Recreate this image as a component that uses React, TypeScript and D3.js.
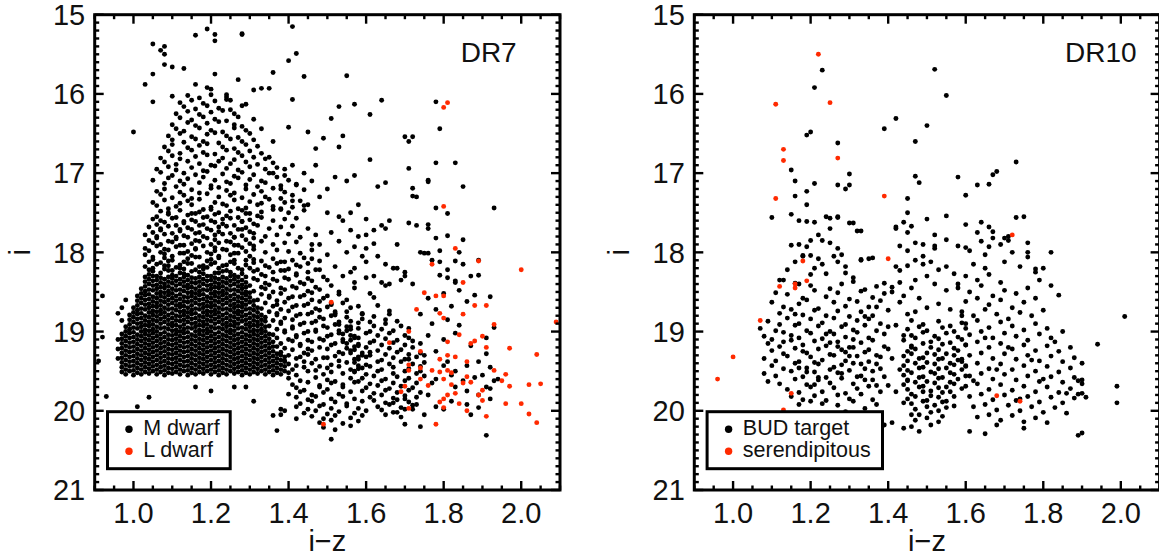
import React from "react";
import * as d3 from "d3";

// ---------- axes ----------
const X_DOMAIN = [0.9, 2.1];
const Y_DOMAIN = [15, 21];
const X_TICKS = [1.0, 1.2, 1.4, 1.6, 1.8, 2.0];
const Y_TICKS = [15, 16, 17, 18, 19, 20, 21];
const X_TICK_LABELS = ["1.0", "1.2", "1.4", "1.6", "1.8", "2.0"];
const Y_TICK_LABELS = ["15", "16", "17", "18", "19", "20", "21"];

// ---------- data: flat pairs [i−z × 100, i × 100, ...] ----------
// DR7 M dwarfs: the saturated core of the distribution
const DR7_M_CORE = [
98,1954,100,1955,102,1954,104,1953,106,1954,108,1955,110,1953,112,1954,114,1955,116,1954,118,1953,120,1954,122,1955,124,1954,126,1953,128,1955,130,1954,132,1953,134,1954,136,1955,138,1954,
97,1951,99,1950,101,1952,103,1951,105,1950,107,1951,109,1952,111,1951,113,1950,115,1952,117,1951,119,1950,121,1951,123,1952,125,1950,127,1951,129,1952,131,1951,133,1950,135,1951,137,1952,139,1950,
98,1948,100,1949,102,1948,104,1947,106,1948,108,1949,110,1947,112,1948,114,1949,116,1948,118,1947,120,1948,122,1949,124,1948,126,1947,128,1949,130,1948,132,1947,134,1948,136,1949,138,1948,
97,1945,99,1944,101,1946,103,1945,105,1944,107,1945,109,1946,111,1945,113,1944,115,1946,117,1945,119,1944,121,1945,123,1946,125,1944,127,1945,129,1946,131,1945,133,1944,135,1945,137,1946,139,1944,
98,1942,100,1943,102,1942,104,1941,106,1942,108,1943,110,1941,112,1942,114,1943,116,1942,118,1941,120,1942,122,1943,124,1942,126,1941,128,1943,130,1942,132,1941,134,1942,136,1943,138,1942,
97,1939,99,1938,101,1940,103,1939,105,1938,107,1939,109,1940,111,1939,113,1938,115,1940,117,1939,119,1938,121,1939,123,1940,125,1938,127,1939,129,1940,131,1939,133,1938,135,1939,137,1940,139,1938,
98,1936,100,1937,102,1936,104,1935,106,1936,108,1937,110,1935,112,1936,114,1937,116,1936,118,1935,120,1936,122,1937,124,1936,126,1935,128,1937,130,1936,132,1935,134,1936,136,1937,138,1936,
97,1933,99,1932,101,1934,103,1933,105,1932,107,1933,109,1934,111,1933,113,1932,115,1934,117,1933,119,1932,121,1933,123,1934,125,1932,127,1933,129,1934,131,1933,133,1932,135,1933,137,1934,139,1932,
98,1930,100,1931,102,1930,104,1929,106,1930,108,1931,110,1929,112,1930,114,1931,116,1930,118,1929,120,1930,122,1931,124,1930,126,1929,128,1931,130,1930,132,1929,134,1930,136,1931,138,1930,
97,1927,99,1926,101,1928,103,1927,105,1926,107,1927,109,1928,111,1927,113,1926,115,1928,117,1927,119,1926,121,1927,123,1928,125,1926,127,1927,129,1928,131,1927,133,1926,135,1927,137,1928,
98,1924,100,1925,102,1924,104,1923,106,1924,108,1925,110,1923,112,1924,114,1925,116,1924,118,1923,120,1924,122,1925,124,1924,126,1923,128,1925,130,1924,132,1923,134,1924,136,1925,
97,1921,99,1920,101,1922,103,1921,105,1920,107,1921,109,1922,111,1921,113,1920,115,1922,117,1921,119,1920,121,1921,123,1922,125,1920,127,1921,129,1922,131,1921,133,1920,135,1921,
98,1918,100,1919,102,1918,104,1917,106,1918,108,1919,110,1917,112,1918,114,1919,116,1918,118,1917,120,1918,122,1919,124,1918,126,1917,128,1919,130,1918,132,1917,134,1918,136,1919,
97,1915,99,1914,101,1916,103,1915,105,1914,107,1915,109,1916,111,1915,113,1914,115,1916,117,1915,119,1914,121,1915,123,1916,125,1914,127,1915,129,1916,131,1915,133,1914,135,1915,
98,1912,100,1913,102,1912,104,1911,106,1912,108,1913,110,1911,112,1912,114,1913,116,1912,118,1911,120,1912,122,1913,124,1912,126,1911,128,1913,130,1912,132,1911,134,1912,136,1913,
97,1909,99,1908,101,1910,103,1909,105,1908,107,1909,109,1910,111,1909,113,1908,115,1910,117,1909,119,1908,121,1909,123,1910,125,1908,127,1909,129,1910,131,1909,133,1908,135,1909,
98,1906,100,1907,102,1906,104,1905,106,1906,108,1907,110,1905,112,1906,114,1907,116,1906,118,1905,120,1906,122,1907,124,1906,126,1905,128,1907,130,1906,132,1905,134,1906,
97,1903,99,1902,101,1904,103,1903,105,1902,107,1903,109,1904,111,1903,113,1902,115,1904,117,1903,119,1902,121,1903,123,1904,125,1902,127,1903,129,1904,131,1903,133,1902,135,1903,
98,1900,100,1901,102,1900,104,1899,106,1900,108,1901,110,1899,112,1900,114,1901,116,1900,118,1899,120,1900,122,1901,124,1900,126,1899,128,1901,130,1900,132,1899,134,1900,
99,1897,101,1896,103,1898,105,1897,107,1896,109,1897,111,1898,113,1897,115,1896,117,1898,119,1897,121,1896,123,1897,125,1898,127,1896,129,1897,131,1898,133,1897,
98,1894,100,1895,102,1894,104,1893,106,1894,108,1895,110,1893,112,1894,114,1895,116,1894,118,1893,120,1894,122,1895,124,1894,126,1893,128,1895,130,1894,132,1893,134,1894,
99,1891,101,1890,103,1892,105,1891,107,1890,109,1891,111,1892,113,1891,115,1890,117,1892,119,1891,121,1890,123,1891,125,1892,127,1890,129,1891,131,1892,133,1891,
100,1888,102,1889,104,1888,106,1887,108,1888,110,1889,112,1887,114,1888,116,1889,118,1888,120,1887,122,1888,124,1889,126,1888,128,1887,130,1889,132,1888,134,1887,
99,1885,101,1884,103,1886,105,1885,107,1884,109,1885,111,1886,113,1885,115,1884,117,1886,119,1885,121,1884,123,1885,125,1886,127,1884,129,1885,131,1886,133,1885,
100,1882,102,1883,104,1882,106,1881,108,1882,110,1883,112,1881,114,1882,116,1883,118,1882,120,1881,122,1882,124,1883,126,1882,128,1881,130,1883,132,1882,
99,1879,101,1878,103,1880,105,1879,107,1878,109,1879,111,1880,113,1879,115,1878,117,1880,119,1879,121,1878,123,1879,125,1880,127,1878,129,1879,131,1880,133,1879,
100,1876,102,1877,104,1876,106,1875,108,1876,110,1877,112,1875,114,1876,116,1877,118,1876,120,1875,122,1876,124,1877,126,1876,128,1875,130,1877,132,1876,
101,1873,103,1872,105,1874,107,1873,109,1872,111,1873,113,1874,115,1873,117,1872,119,1874,121,1873,123,1872,125,1873,127,1874,129,1872,131,1873,
100,1870,102,1871,104,1870,106,1869,108,1870,110,1871,112,1869,114,1870,116,1871,118,1870,120,1869,122,1870,124,1871,126,1870,128,1869,130,1871,132,1870,
101,1867,103,1866,105,1868,107,1867,109,1866,111,1867,113,1868,115,1867,117,1866,119,1868,121,1867,123,1866,125,1867,127,1868,129,1866,131,1867,
102,1864,104,1865,106,1864,108,1863,110,1864,112,1865,114,1863,116,1864,118,1865,120,1864,122,1863,124,1864,126,1865,128,1864,130,1863,
101,1861,103,1860,105,1862,107,1861,109,1860,111,1861,113,1862,115,1861,117,1860,119,1862,121,1861,123,1860,125,1861,127,1862,129,1860,131,1861,
102,1858,104,1859,106,1858,108,1857,110,1858,112,1859,114,1857,116,1858,118,1859,120,1858,122,1857,124,1858,126,1859,128,1858,130,1857,
101,1855,103,1854,105,1856,107,1855,109,1854,111,1855,113,1856,115,1855,117,1854,119,1856,121,1855,123,1854,125,1855,127,1856,129,1854,
102,1852,104,1853,106,1852,108,1851,110,1852,112,1853,114,1851,116,1852,118,1853,120,1852,122,1851,124,1852,126,1853,128,1852,130,1851,
103,1849,105,1848,107,1850,109,1849,111,1848,113,1849,115,1850,117,1849,119,1848,121,1850,123,1849,125,1848,127,1849,129,1850,
102,1846,104,1847,106,1846,108,1845,110,1846,112,1847,114,1845,116,1846,118,1847,120,1846,122,1845,124,1846,126,1847,128,1846,
103,1843,105,1842,107,1844,109,1843,111,1842,113,1843,115,1844,117,1843,119,1842,121,1844,123,1843,125,1842,127,1843,129,1844,
104,1840,106,1841,108,1840,110,1839,112,1840,114,1841,116,1839,118,1840,120,1841,122,1840,124,1839,126,1840,128,1841,
103,1837,105,1836,107,1838,109,1837,111,1836,113,1837,115,1838,117,1837,119,1836,121,1838,123,1837,125,1836,127,1837,
104,1834,106,1835,108,1834,110,1833,112,1834,114,1835,116,1833,118,1834,120,1835,122,1834,124,1833,126,1834,128,1835,
103,1831,105,1830,107,1832,109,1831,111,1830,113,1831,115,1832,117,1831,119,1830,121,1832,123,1831,125,1830,127,1831,
104,1828,106,1830,110,1829,112,1826,114,1829,118,1827,120,1830,122,1826,126,1829,
105,1824,107,1826,109,1823,113,1827,115,1824,117,1825,121,1826,123,1824,125,1825,
104,1822,108,1821,110,1823,112,1820,116,1822,118,1821,122,1820,124,1823,128,1822,
103,1818,105,1820,109,1817,111,1819,113,1821,117,1818,119,1819,123,1817,127,1820,
106,1815,108,1817,112,1816,114,1814,118,1817,120,1815,124,1816,126,1814,
104,1812,107,1813,109,1811,113,1812,115,1814,119,1811,121,1813,125,1812,129,1810,
105,1809,108,1807,110,1810,114,1808,116,1806,120,1809,122,1807,126,1810,
96,1934,96,1922,96,1910,97,1886,96,1877,97,1870,98,1860,
];

// DR7 M dwarfs: dense speckle around the core (right flank and 17.5–18.0 band)
const DR7_M_SPECKLE = [
140,1952,142,1955,145,1950,149,1954,151,1951,154,1953,157,1950,
141,1948,144,1945,147,1949,150,1946,153,1944,156,1948,159,1946,
140,1941,142,1943,146,1940,148,1944,151,1942,155,1939,158,1943,
139,1937,142,1934,144,1938,147,1935,150,1933,153,1937,157,1935,
140,1930,143,1932,145,1929,149,1933,152,1931,154,1928,158,1932,161,1930,
138,1926,141,1923,144,1927,146,1924,150,1922,153,1926,156,1924,159,1927,
137,1919,139,1921,143,1918,145,1922,148,1920,151,1917,155,1921,157,1919,
138,1915,141,1912,143,1916,146,1913,149,1911,152,1915,154,1913,158,1916,
137,1908,140,1910,142,1907,145,1911,148,1909,150,1906,154,1910,157,1908,
136,1904,139,1901,142,1905,144,1902,147,1900,151,1904,153,1902,156,1905,
137,1897,139,1899,141,1896,145,1900,147,1898,150,1895,153,1899,156,1897,
135,1893,138,1890,141,1894,143,1891,146,1889,149,1893,152,1891,155,1894,
136,1886,138,1888,141,1885,144,1889,147,1887,149,1884,153,1888,
134,1882,137,1879,139,1883,142,1880,145,1878,148,1882,151,1880,
135,1875,137,1877,140,1874,143,1878,146,1876,148,1873,152,1877,155,1875,
133,1871,136,1868,138,1872,141,1869,144,1867,147,1871,150,1869,
134,1864,137,1866,139,1863,142,1867,145,1865,148,1862,151,1866,154,1864,
132,1860,135,1857,137,1861,140,1858,143,1856,146,1860,149,1858,
133,1853,135,1855,138,1852,141,1856,144,1854,146,1851,150,1855,153,1853,
131,1849,134,1846,136,1850,139,1847,142,1845,145,1849,148,1847,
130,1842,133,1844,135,1841,138,1845,141,1843,144,1840,147,1844,151,1842,
129,1838,132,1835,134,1839,137,1836,140,1834,143,1838,146,1836,
129,1831,131,1833,134,1830,136,1834,139,1832,142,1829,145,1833,149,1831,
128,1827,131,1824,133,1828,136,1825,139,1823,142,1827,145,1825,
130,1820,132,1822,135,1819,138,1823,140,1821,143,1818,147,1822,
129,1816,131,1813,134,1817,137,1814,139,1812,142,1816,145,1814,
131,1809,133,1811,136,1808,138,1812,141,1810,144,1807,148,1811,
103,1803,105,1806,108,1802,110,1805,113,1801,115,1804,117,1806,120,1802,122,1805,125,1803,127,1801,130,1805,
104,1798,107,1800,109,1797,112,1801,114,1799,116,1796,119,1800,121,1798,124,1797,126,1801,129,1799,131,1796,134,1800,137,1797,140,1799,143,1801,146,1797,
103,1795,106,1792,108,1796,111,1793,113,1791,116,1795,118,1792,121,1794,123,1796,126,1791,128,1794,131,1792,
105,1788,107,1790,110,1787,112,1791,115,1789,117,1786,120,1790,122,1788,125,1787,127,1791,130,1789,133,1786,136,1790,139,1788,142,1787,146,1790,
104,1785,106,1782,109,1786,111,1783,114,1781,116,1785,119,1782,121,1784,124,1786,126,1781,129,1784,131,1782,
103,1778,106,1780,108,1777,111,1781,113,1779,116,1776,118,1780,121,1778,123,1777,126,1781,128,1779,131,1776,134,1780,137,1778,140,1777,143,1781,147,1778,
105,1775,107,1772,110,1776,112,1773,115,1771,117,1775,120,1772,122,1774,125,1776,128,1771,130,1774,
104,1768,107,1770,109,1767,112,1771,114,1769,117,1766,119,1770,122,1768,124,1767,127,1771,129,1769,132,1766,135,1770,138,1768,141,1767,145,1770,
106,1765,108,1762,111,1766,113,1763,116,1761,118,1765,121,1762,123,1764,126,1766,128,1761,131,1764,
105,1758,107,1760,110,1757,113,1761,115,1759,118,1756,120,1760,123,1758,125,1757,128,1761,130,1759,133,1756,136,1760,139,1758,142,1757,
106,1755,109,1752,111,1756,114,1753,116,1751,119,1755,121,1752,124,1754,127,1756,129,1751,132,1754,
107,1748,109,1750,112,1747,115,1751,117,1749,120,1746,122,1750,125,1748,128,1747,130,1751,133,1749,136,1746,140,1750,144,1747,
];

// DR7 M dwarfs: the bright (upper) part of the distribution
const DR7_M_UPPER = [
106,1741,109,1745,111,1742,115,1740,118,1746,120,1743,124,1741,127,1745,129,1744,132,1740,136,1742,138,1746,141,1743,144,1741,
105,1737,108,1734,112,1738,114,1735,117,1733,121,1737,123,1739,126,1734,130,1736,133,1738,135,1733,139,1737,143,1735,
107,1727,110,1731,113,1728,115,1732,119,1726,122,1730,125,1728,128,1731,131,1727,134,1730,138,1732,141,1728,
106,1723,108,1720,112,1724,115,1721,117,1725,120,1719,124,1722,126,1725,129,1720,133,1723,136,1719,139,1724,144,1721,
108,1713,111,1717,113,1714,117,1712,120,1716,122,1718,125,1713,129,1715,132,1717,134,1712,138,1716,142,1714,
105,1709,109,1706,112,1710,114,1707,118,1705,121,1709,124,1711,127,1706,130,1708,133,1710,137,1705,140,1709,
107,1699,110,1703,113,1700,116,1702,119,1698,123,1701,126,1704,128,1699,131,1702,135,1700,139,1703,
106,1695,109,1692,111,1696,115,1693,118,1697,121,1691,124,1694,127,1696,130,1692,134,1695,137,1693,
108,1686,111,1689,114,1685,117,1688,120,1690,122,1685,125,1688,129,1686,132,1689,136,1687,
107,1681,110,1678,112,1682,116,1679,119,1677,123,1681,126,1683,128,1678,131,1680,134,1682,
109,1672,112,1675,115,1671,118,1674,121,1676,124,1671,127,1674,130,1672,133,1675,
108,1667,110,1664,114,1668,117,1665,119,1663,123,1667,126,1669,129,1664,132,1666,
110,1658,113,1661,116,1657,118,1660,122,1662,125,1657,128,1660,131,1658,
109,1653,112,1650,115,1654,119,1651,121,1649,124,1653,127,1655,130,1650,
111,1644,113,1647,117,1643,120,1646,123,1648,126,1643,129,1646,133,1644,
110,1639,114,1636,116,1640,119,1637,122,1635,126,1639,128,1641,
112,1630,115,1633,118,1629,121,1632,124,1634,127,1629,131,1632,
111,1625,114,1622,117,1626,120,1623,123,1621,126,1625,
113,1616,116,1619,119,1615,122,1618,125,1620,128,1615,
112,1611,115,1608,118,1612,121,1609,124,1607,
114,1602,117,1605,120,1601,124,1604,
116,1526,119,1518,121,1525,121,1533,128,1525,128,1524,141,1515,142,1549,140,1558,105,1537,107,1545,108,1550,108,1540,108,1563,110,1566,113,1568,105,1575,103,1588,121,1575,127,1582,136,1573,144,1578,155,1577,116,1588,119,1592,120,1594,131,1595,133,1593,135,1593,124,1601,125,1608,129,1613,141,1607,100,1648,105,1610,110,1603,
164,1608,157,1613,153,1616,151,1631,161,1626,178,1610,179,1644,170,1654,171,1660,172,1654,
140,1642,145,1648,149,1656,154,1653,153,1667,147,1669,136,1660,135,1680,139,1695,141,1690,144,1700,147,1690,146,1710,142,1715,138,1720,136,1700,152,1705,155,1710,157,1703,150,1720,148,1730,145,1740,141,1735,138,1745,153,1755,156,1750,158,1740,150,1750,
161,1683,178,1687,183,1687,171,1694,163,1717,165,1712,172,1719,172,1729,173,1730,176,1709,176,1711,185,1717,193,1744,181,1751,178,1744,171,1763,173,1766,176,1765,176,1770,178,1782,181,1779,185,1784,184,1800,174,1800,175,1801,176,1801,179,1812,183,1811,189,1829,183,1838,181,1832,179,1829,192,1856,
160,1758,162,1772,164,1766,166,1760,158,1780,160,1795,163,1805,165,1815,167,1820,168,1790,170,1825,169,1835,166,1840,162,1830,157,1820,
];

// DR7 M dwarfs: the red tail
const DR7_M_TAIL = [
152,1879,155,1882,159,1877,162,1881,166,1878,
156,1887,159,1884,161,1888,165,1885,168,1887,
153,1891,156,1894,158,1889,162,1893,165,1890,169,1893,
155,1899,158,1896,161,1900,164,1897,167,1899,171,1896,
154,1903,157,1906,160,1902,163,1905,166,1902,170,1905,
156,1911,158,1908,162,1912,165,1909,168,1911,171,1908,
155,1915,158,1918,161,1914,164,1917,167,1914,170,1917,174,1915,
157,1923,160,1920,163,1924,166,1921,169,1923,172,1920,
156,1927,159,1930,161,1926,165,1929,168,1926,171,1929,174,1927,
158,1935,160,1932,164,1936,167,1933,170,1935,173,1932,
157,1939,160,1942,163,1938,166,1941,169,1938,172,1941,175,1939,
158,1947,161,1944,164,1948,167,1945,171,1947,174,1944,
157,1951,160,1954,163,1950,167,1953,170,1950,173,1953,
159,1959,162,1956,165,1960,168,1957,171,1959,175,1956,
158,1963,161,1966,164,1962,167,1965,170,1962,173,1965,
160,1971,163,1968,166,1972,169,1969,172,1971,
159,1975,162,1978,165,1974,168,1977,171,1974,174,1977,
161,1983,164,1980,167,1984,170,1981,173,1983,
162,1987,165,1990,168,1986,171,1989,
163,1995,166,1992,169,1996,172,1993,
164,1999,167,2002,170,1998,
165,2005,169,2008,
140,1959,143,1962,147,1958,150,1961,152,1963,156,1959,
141,1967,145,1964,148,1968,151,1965,154,1967,157,1964,
142,1971,144,1974,148,1970,150,1973,154,1970,
140,1979,143,1976,146,1980,149,1977,153,1979,156,1976,
142,1983,145,1986,147,1982,151,1985,154,1982,157,1985,
143,1991,146,1988,149,1992,152,1989,155,1991,159,1988,
142,1995,145,1998,148,1994,151,1997,155,1994,158,1997,
144,2003,147,2000,150,2004,153,2001,157,2003,160,2000,
146,2007,149,2010,152,2006,156,2009,159,2006,
148,2015,151,2012,154,2016,158,2013,
149,2021,152,2024,156,2019,151,2036,
138,2005,139,2000,142,2010,137,2025,
150,1835,154,1830,157,1838,148,1822,152,1818,156,1825,160,1812,146,1808,150,1803,155,1800,159,1805,148,1790,153,1786,157,1793,162,1789,151,1775,156,1772,160,1778,165,1770,154,1760,
151,1865,155,1860,158,1868,162,1857,153,1850,157,1845,161,1852,165,1842,160,1832,164,1838,
152,1875,156,1870,159,1878,163,1867,166,1874,
167,1990,170,1985,173,1992,176,1980,168,2002,172,1998,175,2005,178,1995,
170,2017,174,2020,171,1935,175,1930,178,1925,181,1938,172,1912,176,1905,
180,1910,183,1902,177,1890,181,1885,184,1892,174,1878,178,1872,182,1868,
176,1858,180,1852,184,1848,186,1862,188,1854,183,1836,187,1830,181,1822,
185,1815,189,1810,177,1810,179,1798,172,1840,170,1830,168,1820,
183,1950,186,1943,189,1938,192,1945,185,1962,188,1958,191,1970,
186,1975,189,1980,192,1985,186,1992,189,1996,182,1988,180,1998,
190,1955,193,1962,191,1928,187,1918,191,1908,193,1895,
183,1970,178,1960,182,1955,180,1943,177,1965,174,1950,
191,2031,192,1972,194,1960,187,2005,
116,1970,120,1975,126,1970,129,1970,131,1988,136,2006,138,1998,104,1983,101,1995,93,1982,92,1855,92,1907,91,1937,
];

const DR7_L = [
180,1617,181,1611,180,1742,183,1795,177,1815,189,1811,200,1822,185,1838,175,1851,178,1855,180,1855,179,1877,180,1883,185,1878,188,1867,191,1867,193,1891,209,1888,197,1921,204,1929,205,1966,202,1967,200,1991,202,2004,204,2015,197,1969,195,1962,196,1954,193,1949,191,2007,196,1991,191,1920,190,1906,188,1912,187,1915,184,1904,181,1913,181,1930,183,1932,186,1938,179,1935,177,1949,179,1951,181,1949,182,1952,186,1957,187,1964,185,1965,182,1967,180,1960,176,1968,174,1960,180,1985,181,1980,183,1978,179,1989,184,1991,180,1996,186,2000,189,1980,190,1974,190,1987,178,2017,171,1997,171,1949,171,1942,169,1976,170,1969,171,1900,173,1872,174,1925,166,1914,174,1946,151,1863,149,2017,
];

const DR10_TARGET_UPPER = [
123,1570,152,1569,155,1602,121,1592,142,1631,139,1644,150,1640,120,1648,119,1652,127,1662,147,1660,147,1704,148,1712,173,1686,168,1698,167,1702,166,1714,163,1715,158,1705,160,1728,130,1701,130,1715,129,1720,127,1715,121,1713,119,1723,119,1740,116,1729,116,1710,115,1696,110,1756,115,1752,
117,1760,119,1761,121,1762,124,1755,125,1757,127,1756,125,1770,122,1778,120,1785,119,1793,117,1790,125,1788,127,1795,131,1763,133,1773,128,1803,126,1805,122,1808,118,1805,116,1812,121,1820,123,1815,127,1812,129,1818,133,1810,136,1807,135,1808,120,1828,124,1827,129,1826,131,1832,114,1822,112,1835,117,1840,
182,1800,184,1854,201,1881,194,1916,199,1969,199,1990,189,2031,190,2028,190,1961,178,1821,176,1800,176,1788,173,1756,175,1755,171,1785,170,1782,167,1774,166,1768,164,1762,166,1793,165,1803,160,1794,155,1754,152,1792,149,1805,147,1788,150,1758,145,1750,145,1732,143,1792,142,1768,142,1818,133,1809,130,1763,132,1773,127,1755,118,1804,120,1804,123,1785,115,1791,
];

const DR10_TARGET_LEFT = [
113,1835,116,1839,120,1842,125,1846,128,1840,131,1837,134,1847,137,1843,139,1839,141,1844,
111,1851,114,1853,118,1858,121,1848,124,1856,127,1851,130,1859,133,1849,136,1857,139,1852,
110,1863,113,1869,117,1865,119,1860,122,1871,126,1863,129,1868,132,1862,135,1869,138,1861,
112,1877,115,1872,118,1879,121,1873,124,1880,127,1874,130,1881,133,1875,136,1880,140,1873,
109,1887,114,1883,117,1890,120,1884,123,1889,126,1883,129,1891,132,1886,135,1884,138,1890,
107,1896,111,1899,116,1892,119,1899,122,1893,125,1900,128,1894,131,1898,134,1892,137,1899,140,1894,
108,1906,110,1910,113,1901,117,1908,120,1902,123,1909,126,1903,129,1907,132,1901,135,1908,139,1903,
109,1915,112,1919,115,1911,118,1917,121,1912,124,1918,127,1913,130,1920,133,1914,136,1911,139,1919,
110,1924,113,1928,116,1921,119,1927,122,1922,125,1929,128,1923,131,1920,134,1926,137,1930,140,1922,
108,1934,111,1937,114,1931,117,1938,120,1932,123,1936,126,1930,129,1937,132,1931,135,1938,138,1932,
110,1943,113,1947,116,1940,119,1946,122,1941,125,1948,128,1942,131,1940,134,1947,137,1941,
108,1953,111,1956,115,1950,118,1957,121,1951,124,1958,127,1952,130,1949,133,1956,136,1950,139,1957,
109,1963,112,1966,116,1960,119,1967,122,1961,125,1965,128,1959,131,1966,134,1961,137,1968,
114,1973,117,1977,120,1970,123,1976,126,1971,129,1978,132,1972,135,1969,138,1976,
115,1982,118,1986,121,1981,124,1987,127,1980,130,1985,133,1979,136,1986,
117,1992,120,1988,123,1991,127,1993,131,1988,134,1997,137,1992,
129,2001,133,2004,135,2012,139,2018,
112,1891,115,1905,118,1925,121,1939,124,1903,127,1919,130,1931,133,1941,136,1961,119,1951,122,1958,125,1914,128,1953,131,1910,134,1881,137,1869,116,1878,113,1913,117,1946,121,1967,126,1945,129,1926,132,1957,135,1923,138,1947,
141,1850,143,1863,145,1878,142,1892,144,1905,146,1920,141,1934,143,1948,145,1962,142,1976,144,1990,146,2005,141,2015,144,2022,143,1838,146,1845,140,1968,
];

const DR10_TARGET_CLUSTER = [
146,1886,149,1891,153,1887,156,1893,159,1889,
145,1897,148,1894,150,1899,154,1895,157,1900,160,1896,
146,1905,149,1901,152,1906,155,1902,158,1907,
144,1911,147,1908,151,1913,153,1909,156,1914,159,1910,
146,1918,149,1915,151,1920,154,1916,157,1921,160,1917,
145,1925,147,1922,150,1927,153,1923,155,1928,158,1924,
144,1931,146,1928,149,1933,152,1929,154,1934,157,1930,159,1935,
145,1937,148,1934,150,1939,153,1935,156,1940,158,1936,
144,1943,147,1940,149,1945,152,1941,155,1946,157,1942,160,1944,
145,1949,148,1946,151,1951,153,1947,156,1952,159,1948,
144,1955,146,1952,149,1957,152,1953,154,1958,157,1954,160,1956,
145,1961,148,1958,150,1963,153,1959,156,1964,158,1960,
144,1967,147,1964,149,1969,152,1965,155,1970,157,1966,
145,1973,148,1970,151,1975,153,1971,156,1976,159,1972,
146,1979,149,1976,151,1981,154,1977,157,1982,
145,1985,147,1982,150,1987,153,1983,155,1988,
146,1991,149,1988,152,1993,154,1989,157,1994,
147,1998,150,1995,153,2000,155,1996,
148,2005,151,2002,154,2007,
147,2012,150,2009,153,2014,
146,2020,148,2026,151,2018,
];

const DR10_TARGET_RIGHT = [
160,1830,163,1835,166,1828,169,1838,158,1845,161,1850,164,1842,167,1855,170,1848,173,1852,
160,1862,163,1858,166,1866,169,1860,172,1870,175,1863,178,1858,
159,1875,162,1880,165,1872,168,1878,171,1884,174,1876,177,1880,180,1873,
160,1890,163,1886,166,1895,169,1888,172,1893,175,1898,178,1890,181,1896,
161,1904,164,1900,167,1908,170,1902,173,1906,176,1911,179,1903,182,1908,185,1900,
160,1917,163,1913,166,1920,169,1915,172,1922,175,1917,178,1924,181,1918,184,1925,187,1920,
161,1930,164,1927,167,1934,170,1928,173,1935,176,1930,179,1937,182,1931,185,1938,188,1933,
160,1943,163,1940,166,1947,169,1941,172,1948,175,1943,178,1950,181,1944,184,1951,187,1946,190,1940,
161,1956,164,1953,167,1960,170,1954,173,1961,176,1956,179,1963,182,1957,185,1964,188,1958,
160,1969,163,1966,166,1973,169,1967,172,1974,175,1969,178,1976,181,1970,184,1977,187,1972,190,1966,
161,1982,164,1979,167,1986,170,1980,173,1987,176,1982,179,1989,182,1983,185,1990,188,1984,
162,1995,165,1992,168,1999,171,1993,174,2000,177,1995,180,2002,183,1996,186,2003,
163,2008,166,2005,169,2012,172,2006,175,2014,178,2009,181,2015,
161,2026,165,2029,168,2018,175,2022,
159,1938,162,1962,165,1908,168,1948,171,1920,174,1985,177,1936,180,1960,183,1913,186,1978,
189,1962,190,1978,189,1979,191,1983,
143,1823,145,1817,147,1810,149,1815,151,1812,153,1822,155,1818,157,1827,150,1830,147,1835,
152,1840,155,1848,158,1840,144,1855,148,1858,150,1870,153,1865,156,1872,159,1880,147,1875,
145,1798,149,1790,152,1795,155,1784,158,1792,161,1798,164,1786,167,1782,162,1815,165,1820,
170,1812,172,1800,174,1818,176,1806,178,1825,180,1820,176,1845,179,1835,182,1842,
142,1770,145,1775,144,1762,146,1767,152,1778,160,1765,163,1775,169,1790,171,1780,
];

const DR10_SERENDIP = [
122,1550,111,1613,125,1611,113,1670,113,1684,127,1681,111,1732,139,1729,172,1778,140,1808,118,1811,112,1843,116,1845,116,1840,119,1836,107,1886,100,1932,96,1960,115,1978,113,1999,168,1981,174,1988,
];

// ---------- helpers ----------
function toPoints(...arrays: number[][]) {
  const out: [number, number][] = [];
  for (const arr of arrays) {
    for (let k = 0; k + 1 < arr.length; k += 2) out.push([arr[k] / 100, arr[k + 1] / 100]);
  }
  return out;
}

const FONT = "'Liberation Sans', Arial, Helvetica, sans-serif";
const BLACK = "#000000";
const RED = "#ff2a00";
const DOT_R = 2.45;

type Box = { x0: number; x1: number; y0: number; y1: number };

function Panel({
  box,
  black,
  red,
  tag,
  tagRight,
  legendWidth,
  legendLabels,
}: {
  box: Box;
  black: [number, number][];
  red: [number, number][];
  tag: string;
  tagRight: number;
  legendWidth: number;
  legendLabels: [string, string];
}) {
  const { x0, x1, y0, y1 } = box;
  const x = d3.scaleLinear().domain(X_DOMAIN).range([x0, x1]);
  const y = d3.scaleLinear().domain(Y_DOMAIN).range([y0, y1]);

  const xMinor = d3.range(0, 25).map((k) => +(X_DOMAIN[0] + k * 0.05).toFixed(2));
  const yMinor = d3.range(0, 61).map((k) => +(Y_DOMAIN[0] + k * 0.1).toFixed(1));
  const isXMajor = (v: number) => X_TICKS.some((t) => Math.abs(t - v) < 1e-6);
  const isYMajor = (v: number) => Y_TICKS.some((t) => Math.abs(t - v) < 1e-6);
  const MAJ = 9;
  const MIN = 4.5;
  const TW = 2.4;

  const legTop = 411.7;
  const legLeft = x0 + 12.8;

  return (
    <g>
      <defs>
        <clipPath id={`clip-${tag}`}>
          <rect x={x0} y={y0} width={x1 - x0} height={y1 - y0} />
        </clipPath>
      </defs>
      <g clipPath={`url(#clip-${tag})`}>
        {black.map((p, i) => (
          <circle key={"b" + i} cx={x(p[0])} cy={y(p[1])} r={DOT_R} fill={BLACK} />
        ))}
        {red.map((p, i) => (
          <circle key={"r" + i} cx={x(p[0])} cy={y(p[1])} r={DOT_R} fill={RED} />
        ))}
      </g>

      {xMinor.map((v, i) => {
        const len = isXMajor(v) ? MAJ : MIN;
        return (
          <g key={"xt" + i} stroke={BLACK} strokeWidth={TW}>
            <line x1={x(v)} x2={x(v)} y1={y1} y2={y1 - len} />
            <line x1={x(v)} x2={x(v)} y1={y0} y2={y0 + len} />
          </g>
        );
      })}
      {yMinor.map((v, i) => {
        const len = isYMajor(v) ? MAJ : MIN;
        return (
          <g key={"yt" + i} stroke={BLACK} strokeWidth={TW}>
            <line x1={x0} x2={x0 + len} y1={y(v)} y2={y(v)} />
            <line x1={x1} x2={x1 - len} y1={y(v)} y2={y(v)} />
          </g>
        );
      })}

      <rect x={x0} y={y0} width={x1 - x0} height={y1 - y0} fill="none" stroke={BLACK} strokeWidth={3} />

      {X_TICKS.map((v, i) => (
        <text key={"xl" + i} x={x(v)} y={523} textAnchor="middle" fontFamily={FONT} fontSize={29} fill="#111">
          {X_TICK_LABELS[i]}
        </text>
      ))}
      {Y_TICKS.map((v, i) => (
        <text key={"yl" + i} x={x0 - 9.5} y={y(v) + 10.3} textAnchor="end" fontFamily={FONT} fontSize={29} fill="#111">
          {Y_TICK_LABELS[i]}
        </text>
      ))}

      <text x={(x0 + x1) / 2} y={551} textAnchor="middle" fontFamily={FONT} fontSize={29} fill="#111">
        i−z
      </text>
      <text
        transform={`translate(${x0 - 65},${(y0 + y1) / 2}) rotate(-90)`}
        textAnchor="middle"
        fontFamily={FONT}
        fontSize={29}
        fill="#111"
      >
        i
      </text>

      <text x={x1 - tagRight} y={61.7} textAnchor="end" fontFamily={FONT} fontSize={28} fill="#111">
        {tag}
      </text>

      <rect x={legLeft} y={legTop} width={legendWidth} height={57} fill="#fff" stroke={BLACK} strokeWidth={3} />
      <circle cx={x0 + 34.3} cy={429.2} r={3.7} fill={BLACK} />
      <circle cx={x0 + 34.3} cy={451.3} r={3.7} fill={RED} />
      <text x={x0 + 48.5} y={435.3} fontFamily={FONT} fontSize={21.5} fill="#111">
        {legendLabels[0]}
      </text>
      <text x={x0 + 48.5} y={456.5} fontFamily={FONT} fontSize={21.5} fill="#111">
        {legendLabels[1]}
      </text>
    </g>
  );
}

export default function App() {
  const dr7Black = toPoints(DR7_M_CORE, DR7_M_SPECKLE, DR7_M_UPPER, DR7_M_TAIL);
  const dr7Red = toPoints(DR7_L);
  const dr10Black = toPoints(DR10_TARGET_UPPER, DR10_TARGET_LEFT, DR10_TARGET_CLUSTER, DR10_TARGET_RIGHT);
  const dr10Red = toPoints(DR10_SERENDIP);

  return (
    <svg
      width={1159}
      height={558}
      viewBox="0 0 1159 558"
      style={{ position: "absolute", left: 0, top: 0, background: "#fff", display: "block" }}
    >
      <rect x={0} y={0} width={1159} height={558} fill="#fff" />
      <Panel
        box={{ x0: 94.7, x1: 560, y0: 14.7, y1: 490 }}
        black={dr7Black}
        red={dr7Red}
        tag="DR7"
        tagRight={43.3}
        legendWidth={122.7}
        legendLabels={["M dwarf", "L dwarf"]}
      />
      <Panel
        box={{ x0: 694.3, x1: 1159.6, y0: 14.7, y1: 490 }}
        black={dr10Black}
        red={dr10Red}
        tag="DR10"
        tagRight={23}
        legendWidth={175.4}
        legendLabels={["BUD target", "serendipitous"]}
      />
    </svg>
  );
}
